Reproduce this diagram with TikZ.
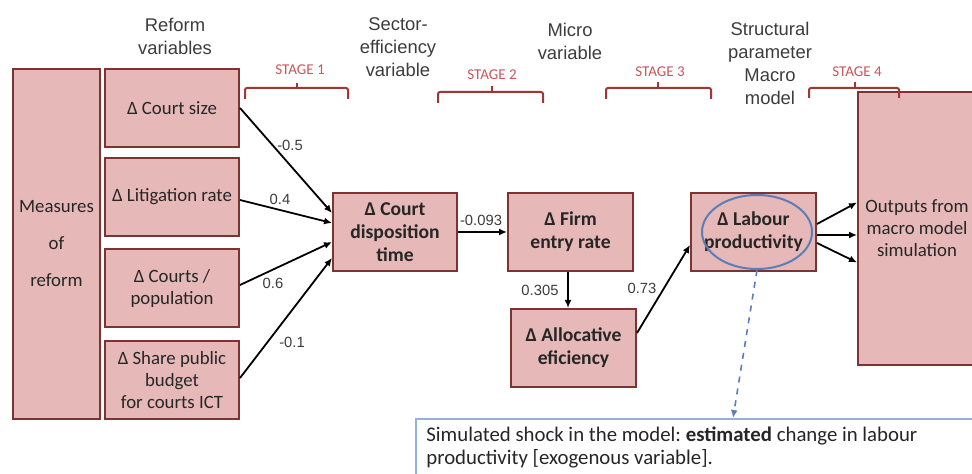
\documentclass[tikz,border=0pt]{standalone}
\usepackage{fontspec}
\setmainfont{Carlito}
\newfontfamily\hdrfont{Liberation Sans}
\usetikzlibrary{arrows.meta,shapes.geometric}
\frenchspacing
\definecolor{boxfill}{HTML}{E6B9B8}
\definecolor{boxline}{HTML}{7B3432}
\definecolor{stagered}{HTML}{C8555A}
\definecolor{bracketred}{HTML}{A33532}
\definecolor{ovalblue}{HTML}{5A7EB8}
\definecolor{noteblue}{HTML}{95B3D7}
\definecolor{hdrgray}{HTML}{3C3C3C}

\begin{document}
\begin{tikzpicture}[x=0.5pt,y=-0.5pt,
  box/.style={draw=boxline, fill=boxfill, line width=1pt, inner sep=0pt,
    align=center, text=black!85, font=\fontsize{9.4}{11}\selectfont},
  boldbox/.style={box, font=\fontsize{9.8}{11.5}\selectfont\bfseries},
  hdr/.style={align=center, text=hdrgray, inner sep=0pt,
    font=\hdrfont\fontsize{9.2}{11.5}\selectfont},
  stagelbl/.style={text=stagered, inner sep=0pt, font=\fontsize{7.5}{9}\selectfont},
  brace/.style={draw=bracketred, line width=1pt, rounded corners=1pt},
  coef/.style={text=hdrgray, inner sep=1pt, font=\hdrfont\fontsize{7.4}{9}\selectfont},
  arr/.style={draw=black, line width=0.9pt, -{Latex[length=4pt,width=3.5pt]}},
  shockarr/.style={draw=ovalblue, dashed, line width=0.8pt, -{Latex[length=4pt,width=3.5pt]}},
  notebox/.style={draw=noteblue, line width=1pt, fill=white, inner sep=0pt},
  notetext/.style={align=flush left, inner sep=0pt, text width=290pt,
    text=black!85, font=\fontsize{10.4}{11.5}\selectfont},
]
\useasboundingbox (0,0) rectangle (972,474);
\clip (0,0) rectangle (972,474);

% column headings
\node[hdr] (h1) at (175,36) {Reform\\variables};
\node[hdr] (h2) at (398,47) {Sector-\\efficiency\\variable};
\node[hdr] (h3) at (570,41) {Micro\\variable};
\node[hdr] (h4) at (770,63) {Structural\\parameter\\Macro\\model};

% reform measures
\node[box, minimum width=43.5pt, minimum height=175pt,
      font=\fontsize{9.4}{18.5}\selectfont] (meas) at (56.5,244) {Measures\\of\\reform};
\node[box, minimum width=67pt, minimum height=39pt] (cs)  at (172,108) {Δ Court size};
\node[box, minimum width=67pt, minimum height=39pt] (lit) at (172,197) {Δ Litigation rate};
\node[box, minimum width=67pt, minimum height=39pt] (cp)  at (172,288) {Δ Courts /\\population};
\node[box, minimum width=67pt, minimum height=39pt] (sb)  at (172,380) {Δ Share public\\budget\\for courts ICT};

% chain of effects
\node[boldbox, minimum width=62pt, minimum height=39pt] (cdt) at (395,232) {Δ Court\\disposition\\time};
\node[boldbox, minimum width=62.5pt, minimum height=39pt] (fer) at (570.5,232) {Δ Firm\\entry rate};
\node[boldbox, minimum width=62.5pt, minimum height=39pt] (ae) at (573.5,348) {Δ Allocative\\eficiency};
\node[boldbox, minimum width=62.5pt, minimum height=39pt] (lp) at (753.5,232) {Δ Labour\\productivity};
\node[draw=ovalblue, line width=1pt, ellipse, minimum width=55pt, minimum height=37pt, inner sep=0pt] (oval) at (757,232) {};
\node[box, minimum width=59pt, minimum height=136.5pt] (out) at (917,228.5) {Outputs from\\macro model\\simulation};

% stage brackets
\draw[brace] (245,99) -- (245,88) -- (348,88) -- (348,99);
\draw[brace] (297,88) -- (297,83);
\draw[brace] (438,103) -- (438,92) -- (543,92) -- (543,103);
\draw[brace] (492,92) -- (492,86);
\draw[brace] (606,99) -- (606,88) -- (711,88) -- (711,99);
\draw[brace] (658,88) -- (658,82);
\draw[brace] (809,98) -- (809,88) -- (899,88) -- (899,98);
\draw[brace] (855,88) -- (855,82);
\node[stagelbl] (s1) at (300,70) {STAGE 1};
\node[stagelbl] (s2) at (492,75) {STAGE 2};
\node[stagelbl] (s3) at (660,72) {STAGE 3};
\node[stagelbl] (s4) at (857,72) {STAGE 4};

% connectors
\draw[arr] (cs.east) -- ([yshift=9.5pt]cdt.west);
\draw[arr] ([yshift=-1.5pt]lit.east) -- ([yshift=4.5pt]cdt.west);
\draw[arr] ([yshift=1.5pt]cp.east) -- ([yshift=-5pt]cdt.west);
\draw[arr] ([yshift=1pt]sb.east) -- ([yshift=-13pt]cdt.west);
\draw[arr] (cdt.east) -- (fer.west);
\draw[arr] ([xshift=-1.25pt]fer.south) -- ([xshift=-1.25pt]fer.south |- ae.north);
\draw[arr] ([yshift=7.5pt]ae.east) -- ([yshift=-6.5pt]lp.west);
\draw[arr] ([yshift=4pt]lp.east) -- ([yshift=13pt]out.west);
\draw[arr] ([yshift=-1.5pt]lp.east) -- ([yshift=-3.25pt]out.west);
\draw[arr] ([yshift=-5.5pt]lp.east) -- ([yshift=-17pt]out.west);

% coefficients
\node[coef] (c1) at (290,145) {-0.5};
\node[coef] (c2) at (280,199) {0.4};
\node[coef] (c3) at (273,283) {0.6};
\node[coef] (c4) at (292,342) {-0.1};
\node[coef] (c5) at (481,220) {-0.093};
\node[coef] (c6) at (540,290) {0.305};
\node[coef] (c7) at (642,288) {0.73};

% note on the simulated shock
\node[notebox, anchor=north west, minimum width=300pt, minimum height=40pt] (shock) at (415,418) {};
\node[notetext, anchor=north west] (shocktext) at ([xshift=5.5pt,yshift=-4pt]shock.north west)
  {Simulated shock in the model: \textbf{estimated} change in labour\\productivity [exogenous variable].};
\coordinate (hit) at (733,418);
\draw[shockarr] (oval.south) -- (hit);
\end{tikzpicture}
\end{document}
